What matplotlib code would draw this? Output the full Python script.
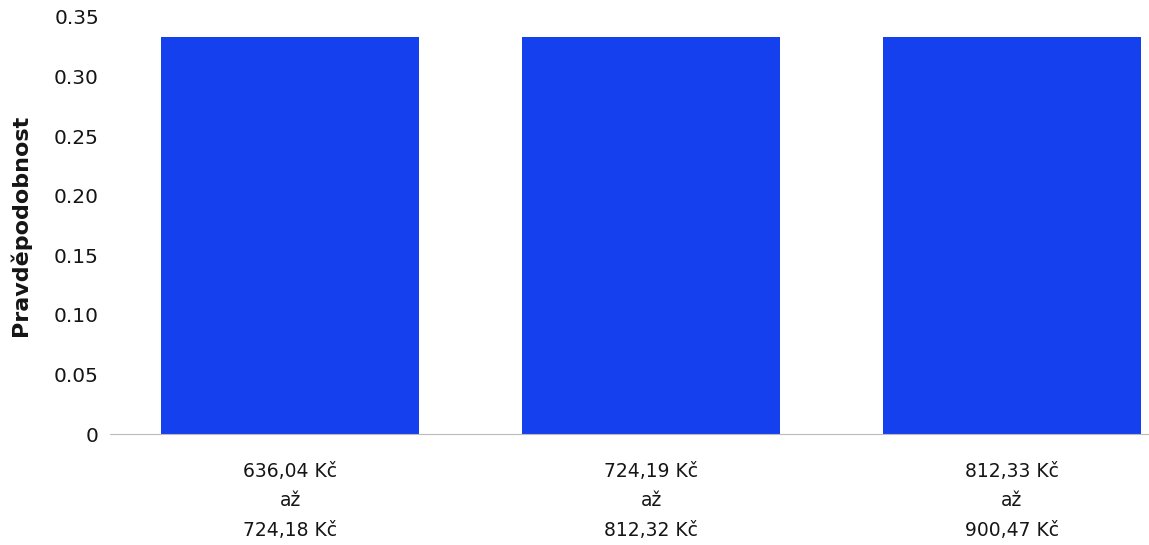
import matplotlib
matplotlib.use("Agg")
import matplotlib.pyplot as plt
from matplotlib.ticker import FuncFormatter

categories = ["636,04 Kč\naž\n724,18 Kč", "724,19 Kč\naž\n812,32 Kč", "812,33 Kč\naž\n900,47 Kč"]
values = [0.333, 0.333, 0.333]
yticks = [0, 0.05, 0.10, 0.15, 0.20, 0.25, 0.30, 0.35]

plt.rcParams['font.family'] = ['DejaVu Sans']

W, H = 1149, 545
fig = plt.figure(figsize=(W / 100, H / 100), dpi=100)
left, right = 110 / W, 1192 / W
bottom, top = (H - 434) / H, (H - 17) / H
ax = fig.add_axes([left, bottom, right - left, top - bottom])

x = list(range(len(categories)))
ax.bar(x, values, width=0.715, color='#1540ee', edgecolor='none')

ax.set_xlim(-0.5, 2.5)
ax.set_ylim(0, 0.35)
ax.set_yticks(yticks)
ax.yaxis.set_major_formatter(FuncFormatter(lambda v, p: "0" if v == 0 else f"{v:.2f}"))
ax.set_xticks(x)
ax.set_xticklabels(categories, fontsize=13.5, linespacing=1.7, color='#151515')
ax.tick_params(axis='y', length=0, pad=8, labelsize=14.5, labelcolor='#151515')
ax.tick_params(axis='x', length=0, pad=20)
ax.set_ylabel("Pravděpodobnost", fontsize=16, fontweight='bold', color='#151515')
ax.yaxis.set_label_coords((31 - 110) / 1082, 0.5)

for s in ['top', 'right', 'left']:
    ax.spines[s].set_visible(False)
ax.spines['bottom'].set_color('#bbbbbb')
ax.spines['bottom'].set_linewidth(0.8)

fig.savefig("out.png", dpi=100)
